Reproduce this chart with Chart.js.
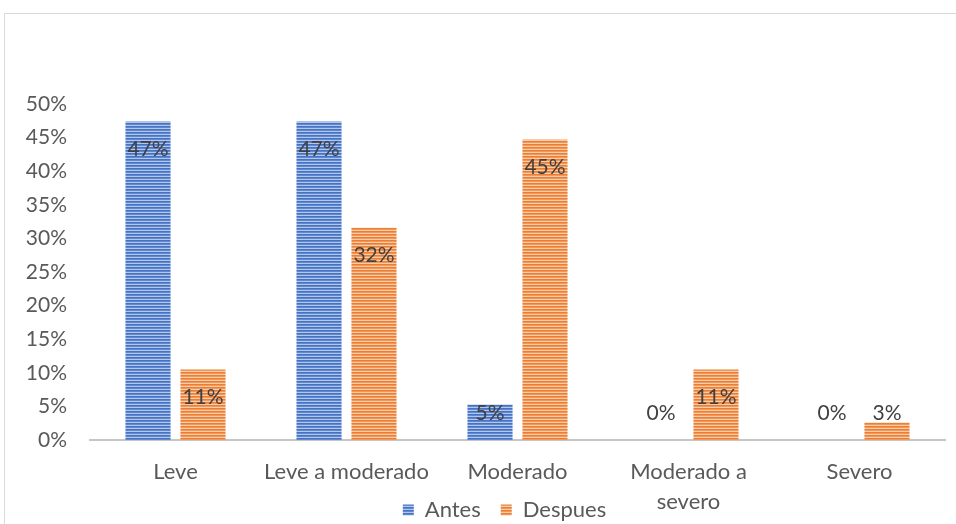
<!DOCTYPE html>
<html>
<head>
<meta charset="utf-8">
<script src="https://cdn.jsdelivr.net/npm/chart.js@4/dist/chart.umd.min.js"></script>
<style>
  html, body { margin: 0; padding: 0; background: #fff; overflow: hidden; }
  canvas { display: block; }
</style>
</head>
<body>
<canvas id="barChart" width="956" height="580"></canvas>
<script>
// data (percent of patients)
const categories = ['Leve', 'Leve a moderado', 'Moderado', ['Moderado a', 'severo'], 'Severo'];
const antes = [47.4, 47.4, 5.3, 0, 0];
const despues = [10.5, 31.6, 44.7, 10.5, 2.6];
const seriesNames = ['Antes', 'Despues'];

// horizontal striped fill like the office chart
function stripes(colors) {
  const c = document.createElement('canvas');
  c.width = 4;
  c.height = colors.length;
  const g = c.getContext('2d');
  colors.forEach((col, i) => {
    g.fillStyle = col;
    g.fillRect(0, i, 4, 1);
  });
  return g.createPattern(c, 'repeat');
}

const blueFill = stripes(['#4472c4', '#6088d0', '#b4c7e9']);
const orangeFill = stripes(['#ed7d31', '#f0975a', '#f9cdac']);

const frame = {
  id: 'frame',
  beforeDraw(chart) {
    const g = chart.ctx;
    g.save();
    g.strokeStyle = '#d9d9d9';
    g.lineWidth = 1;
    g.strokeRect(4.5, 13.5, 1000, 1000);
    g.restore();
  }
};

// legend sits a bit right of centre and overlaps the x label band
const legendShift = {
  id: 'legendShift',
  afterLayout(chart) {
    const lg = chart.legend;
    const h = lg.height;
    lg.left += 30;
    lg.right += 30;
    lg.top = 479;
    lg.bottom = lg.top + h;
  }
};

const valueLabels = {
  id: 'valueLabels',
  afterDatasetsDraw(chart) {
    const g = chart.ctx;
    g.save();
    g.font = '21px Lato';
    g.fillStyle = '#404040';
    g.textAlign = 'center';
    g.textBaseline = 'middle';
    chart.data.datasets.forEach((ds, i) => {
      chart.getDatasetMeta(i).data.forEach((bar, j) => {
        const y = Math.min(bar.y + 28, bar.base - 27);
        g.fillText(Math.round(ds.data[j]) + '%', bar.x, y);
      });
    });
    g.restore();
  }
};

const ctx = document.getElementById('barChart').getContext('2d');

const barChart = new Chart(ctx, {
  type: 'bar',
  data: {
    labels: categories,
    datasets: [{
      label: seriesNames[0],
      data: antes,
      backgroundColor: blueFill,
      categoryPercentage: 0.643,
      barPercentage: 0.82
    }, {
      label: seriesNames[1],
      data: despues,
      backgroundColor: orangeFill,
      categoryPercentage: 0.643,
      barPercentage: 0.82
    }]
  },
  options: {
    responsive: false,
    animation: false,
    devicePixelRatio: 1,
    layout: { padding: { left: 4, right: 11, top: 104, bottom: 4 } },
    plugins: {
      legend: {
        position: 'bottom',
        labels: {
          boxWidth: 11,
          boxHeight: 11,
          padding: 20,
          color: '#595959',
          font: { family: 'Lato', size: 22 }
        }
      },
      tooltip: { enabled: false }
    },
    scales: {
      x: {
        grid: { display: false, drawTicks: false },
        border: { display: true, color: '#c6c6c6', width: 2 },
        ticks: {
          color: '#595959',
          padding: 17,
          maxRotation: 0,
          autoSkip: false,
          font: { family: 'Lato', size: 22, lineHeight: 1.36 }
        },
        afterFit(scale) { scale.height = 84; }
      },
      y: {
        min: 0,
        max: 50,
        grid: { display: false, drawTicks: false },
        border: { display: false },
        ticks: {
          stepSize: 5,
          padding: 23,
          color: '#595959',
          font: { family: 'Lato', size: 21 },
          callback: v => v + '%'
        },
        afterFit(scale) { scale.width = 86; }
      }
    }
  },
  plugins: [frame, legendShift, valueLabels]
});
</script>
</body>
</html>
